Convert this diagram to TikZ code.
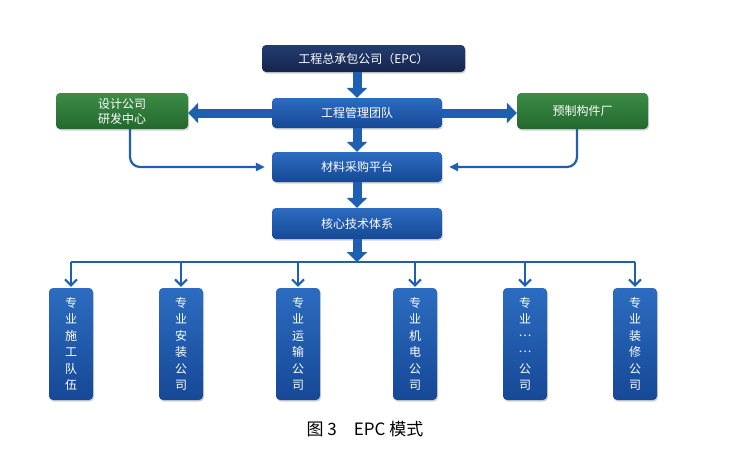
\documentclass[tikz,border=0pt]{standalone}
\usepackage{fontspec}
\setmainfont{Noto Sans CJK SC}
\usetikzlibrary{arrows.meta,shadows}
\definecolor{navytop}{HTML}{243C70}
\definecolor{navybot}{HTML}{15254C}
\definecolor{bluetop}{HTML}{2C6CC0}
\definecolor{bluebot}{HTML}{164896}
\definecolor{greentop}{HTML}{3C8C46}
\definecolor{greenbot}{HTML}{23682E}
\definecolor{arrowblue}{HTML}{1F5FB2}
\newcommand{\middots}{\raisebox{0.35em}{…}}
\tikzset{
    box/.style={rounded corners=4pt, inner sep=0pt, text=white,
        font=\fontsize{12}{14}\selectfont,
        drop shadow={shadow xshift=1pt, shadow yshift=-1.5pt, opacity=0.35}},
    navybox/.style={box, top color=navytop, bottom color=navybot,
        minimum width=203pt, minimum height=27pt},
    bluebox/.style={box, top color=bluetop, bottom color=bluebot,
        minimum width=170pt, minimum height=30pt},
    greenbox/.style={box, top color=greentop, bottom color=greenbot,
        minimum width=132pt, minimum height=36pt, align=center,
        font=\fontsize{12}{15}\selectfont},
    tallbox/.style={box, top color=bluetop, bottom color=bluebot,
        minimum width=44pt, minimum height=112pt, align=center,
        font=\fontsize{12}{16.5}\selectfont},
    fat/.style={arrowblue, line width=9pt, -{Triangle[width=20pt,length=10pt]}},
    link/.style={arrowblue, line width=2.2pt, rounded corners=10pt,
        -{Triangle[width=8pt,length=9pt]}, shorten >=7pt},
    bus/.style={arrowblue, line width=2.6pt},
    drop/.style={arrowblue, line width=2.2pt,
        -{Straight Barb[width=12pt,length=6pt,line width=2pt]}}
}
\begin{document}
\begin{tikzpicture}[x=1pt,y=-1pt]
\useasboundingbox (0,0) rectangle (731,458);

\node[navybox] (epc) at (363.5,58.5) {工程总承包公司（EPC）};
\node[bluebox] (mgmt) at (357,113) {工程管理团队};
\node[greenbox] (design) at (122,111) {设计公司\\研发中心};
\node[greenbox, minimum width=131pt] (prefab) at (582.5,111) {预制构件厂};
\node[bluebox] (mat) at (357,167) {材料采购平台};
\node[bluebox, minimum height=31pt] (core) at (357,223.5) {核心技术体系};
\coordinate (bus) at (357,262);

% fat arrows
\draw[fat] (mgmt.north |- epc.south) -- (mgmt.north);
\draw[fat] (mgmt) -- (mat);
\draw[fat] (mat) -- (core);
\draw[fat] (core) -- (bus);
\draw[fat] (mgmt.west) -- (mgmt.west -| design.east);
\draw[fat] (mgmt.east) -- (mgmt.east -| prefab.west);

% side suppliers
\draw[link] ([xshift=8pt]design.south) |- (mat.west);
\draw[link] ([xshift=-5.5pt]prefab.south) |- (mat.east);

% bottom row
\foreach \n/\x/\t in {b1/71/{专\\业\\施\\工\\队\\伍},
                      b2/181/{专\\业\\安\\装\\公\\司},
                      b3/298/{专\\业\\运\\输\\公\\司},
                      b4/415/{专\\业\\机\\电\\公\\司},
                      b5/525/{专\\业\\\middots\\\middots\\公\\司},
                      b6/635/{专\\业\\装\\修\\公\\司}}
  \node[tallbox] (\n) at (\x,344) {\t};

\draw[bus] (b1.north |- bus) -- (b6.north |- bus);
\foreach \n in {b1,b2,b3,b4,b5,b6}
  \draw[drop] (\n.north |- bus) -- ([yshift=1pt]\n.north);

\node[font=\fontsize{17}{20}\selectfont] (cap) at (365,429) {图 3\quad EPC 模式};

\end{tikzpicture}
\end{document}
